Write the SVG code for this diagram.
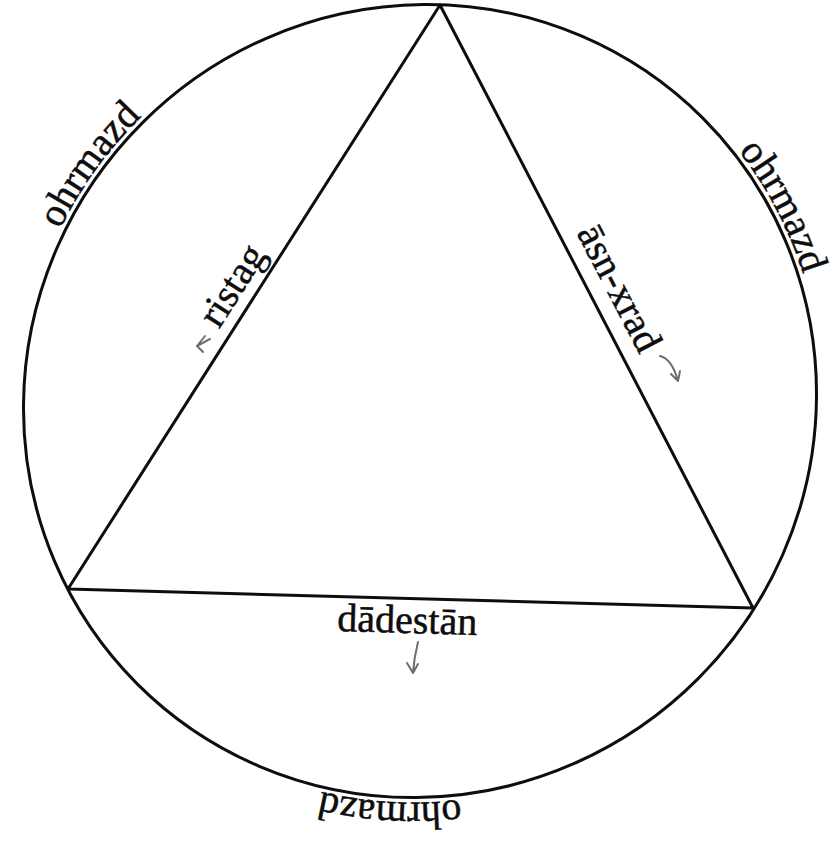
<svg xmlns="http://www.w3.org/2000/svg" xmlns:xlink="http://www.w3.org/1999/xlink" width="832" height="841" viewBox="0 0 832 841">
  <style>
    .ink { fill: none; stroke: #0d0d0d; stroke-width: 3; stroke-linejoin: round; stroke-linecap: round; }
    .pencil { fill: none; stroke: #6e6e6e; stroke-width: 2; stroke-linecap: round; stroke-linejoin: round; }
    .lbl { font-family: "Liberation Serif", "Times New Roman", serif; font-size: 40px; fill: #0d0d0d; stroke: #0d0d0d; stroke-width: 0.5; }
  </style>
  <defs>
    <path id="outerPath" d="M 420 806 A 398 405 0 0 1 22 401 A 398 405 0 0 1 420 -4 A 398 405 0 0 1 818 401 A 398 405 0 0 1 420 806"/>
  </defs>
  <rect x="0" y="0" width="832" height="841" fill="#ffffff"/>

  <g id="circle">
    <ellipse class="ink" cx="420" cy="401" rx="393" ry="400" transform="rotate(45 420 401)"/>
  </g>

  <g id="connectors">
    <polygon id="triangle" class="ink" points="440,5 753,608 68,589"/>
  </g>

  <g id="outer-labels" transform="rotate(45 420 401)">
    <text id="ohrmazd-topleft" class="lbl"><textPath xlink:href="#outerPath" href="#outerPath" startOffset="22.4%" text-anchor="middle">ohrmazd</textPath></text>
    <text id="ohrmazd-right" class="lbl"><textPath xlink:href="#outerPath" href="#outerPath" startOffset="54.7%" text-anchor="middle">ohrmazd</textPath></text>
    <text id="ohrmazd-bottom" class="lbl"><textPath xlink:href="#outerPath" href="#outerPath" startOffset="88.6%" text-anchor="middle">ohrmazd</textPath></text>
  </g>

  <g id="ristag">
    <text class="lbl" text-anchor="middle" transform="translate(243 292) rotate(-57.5)">ristag</text>
    <path class="pencil" d="M210 339 L197 346 M205 336 L197 346 L203 352"/>
  </g>

  <g id="asn-xrad">
    <text class="lbl" text-anchor="middle" transform="translate(608 294) rotate(62.6)">āsn-xrad</text>
    <path class="pencil" d="M660 356 Q 672 359 678 381 M671 374 L678 381 L680 371"/>
  </g>

  <g id="dadestan">
    <text class="lbl" text-anchor="middle" transform="translate(407 633) rotate(1.6)">dādestān</text>
    <path class="pencil" d="M418 642 Q 414 658 413 673 M407 663 L413 673 L418 664"/>
  </g>
</svg>
